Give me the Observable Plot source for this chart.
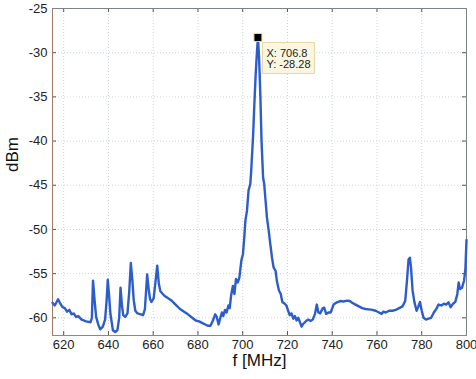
<!DOCTYPE html>
<html>
<head>
<meta charset="utf-8">
<script src="https://cdn.jsdelivr.net/npm/d3@7"></script>
<script src="https://cdn.jsdelivr.net/npm/@observablehq/plot@0.6"></script>
<style>
  html, body { margin: 0; padding: 0; background: #ffffff; }
  #chart { width: 476px; height: 379px; }
</style>
</head>
<body>
<div id="chart"></div>
<script>
const xTicks = [620, 640, 660, 680, 700, 720, 740, 760, 780, 800];
const yTicks = [-60, -55, -50, -45, -40, -35, -30, -25];

const freq = [
  615, 616, 617.5, 618.5, 619.5, 620.5, 621.5, 622.5, 623.5, 624.5, 625.5, 626.5, 628, 630, 632,
  632.6, 633.1, 633.8, 634.5, 635.5, 636.3, 637.5, 638.5, 639.2, 639.7, 640.3, 640.9, 642, 643, 644,
  644.8, 645.4, 646, 646.6, 647.5, 648.5, 649.3, 650, 650.7, 651.3, 652, 653, 654.5, 655.5, 656.3,
  657.3, 658, 658.6, 659.2, 660.2, 661, 661.8, 662.5, 663.2, 665, 668, 670, 672, 675, 677,
  679, 680.5, 682, 684.4, 685.6, 686.7, 687.7, 688.4, 689.2, 690, 690.7, 691.3, 692.1, 692.8, 693.6,
  694.2, 694.8, 695.6, 696.3, 697, 697.8, 698.5, 699.4, 700.1, 700.7, 701.2, 701.9, 702.6, 703.4, 703.8,
  704.6, 705.2, 705.8, 706.4, 706.8, 707.3, 707.9, 708.4, 709.1, 709.6, 710.2, 710.8, 711.6, 712.3, 713.1,
  713.8, 714.7, 715.3, 716.2, 717, 717.7, 718.8, 719.5, 720.3, 721, 721.8, 722.6, 723.3, 724.1, 724.8,
  725.6, 726.3, 727, 727.8, 728.6, 729.3, 730.3, 731.3, 732.3, 733.1, 733.8, 734.6, 735.8, 736.4, 737.3,
  738.3, 739.3, 740.6, 742.1, 743.6, 745.1, 746.6, 747.8, 748.9, 750.4, 751.9, 753.4, 754.9, 756.4, 757.9,
  759.4, 760.9, 762, 762.9, 763.9, 765.4, 766.9, 768.4, 769.9, 771.4, 772.6, 773.4, 774.1, 774.7, 775.2,
  775.9, 776.7, 777.7, 778.5, 779.2, 780, 780.8, 781.9, 783, 784.2, 785.4, 786.5, 787.5, 788.7, 789.9,
  790.9, 792, 792.9, 794, 795, 795.9, 796.5, 797.1, 798, 798.9, 799.5, 800
];
const dbm = [
  -58.3, -58.6, -57.9, -58.4, -58.8, -58.9, -59.3, -59.1, -59.6, -59.5, -59.9, -59.8, -60.2, -60.4, -60.5,
  -60.0, -55.8, -58.0, -59.9, -60.8, -61.3, -61.0, -60.2, -58.0, -55.7, -57.5, -59.6, -61.4, -61.6, -61.4,
  -60.0, -56.6, -58.5, -59.7, -59.9, -59.5, -57.0, -53.8, -55.8, -58.0, -59.2, -59.5, -59.6, -59.7, -59.0,
  -55.1, -56.8, -57.9, -58.2, -57.8, -56.0, -54.1, -56.1, -57.0, -57.5, -58.0, -58.5, -59.0, -59.5, -59.9,
  -60.3, -60.4, -60.6, -60.9, -60.9, -60.3, -59.6, -59.9, -60.75, -60.0, -59.4, -59.8, -59.1, -59.4, -58.6,
  -58.9, -57.5, -56.4, -57.3, -55.6, -56.0, -55.45, -53.5, -52.8, -50.9, -49.0, -47.9, -45.6, -44.85, -43.3,
  -39.6, -35.8, -32.4, -29.75, -28.28, -30.5, -35.0, -39.95, -44.1, -44.85, -46.7, -48.6, -50.1, -51.6, -53.2,
  -54.3, -54.7, -55.9, -56.9, -57.3, -58.2, -58.4, -58.6, -59.2, -59.7, -59.5, -60.1, -59.8, -60.3, -60.0,
  -60.5, -61.0, -60.7, -60.5, -60.3, -60.2, -60.35, -60.2, -59.55, -58.5, -59.4, -59.5, -58.9, -58.85, -59.55,
  -59.4, -59.4, -58.5, -58.25, -58.1, -58.15, -58.06, -58.1, -58.3, -58.5, -58.7, -58.9, -59.0, -59.05, -59.1,
  -59.2, -59.4, -59.55, -59.3, -59.4, -59.2, -59.2, -59.1, -58.9, -58.7, -58.1, -55.8, -53.4, -53.2, -54.3,
  -56.9, -58.2, -59.2, -58.7, -58.2, -59.2, -60.0, -60.2, -60.1, -60.0, -59.4, -59.0, -58.5, -58.6, -58.4,
  -58.5, -58.25, -58.8, -58.4, -58.2, -57.3, -56.0, -56.75, -56.6, -55.8, -54.5, -51.2
];

const markerX = [706.8];
const markerY = [-28.28];

const data = freq.map((f, i) => ({ f, dbm: dbm[i] }));
const peak = markerX.map((x, i) => ({ x, y: markerY[i], label: `X: ${x}\nY: ${markerY[i]}` }));

const gridStyle = { stroke: "#cbd7e0", strokeOpacity: 1, strokeDasharray: "1,2", strokeWidth: 1 };

const chart = Plot.plot({
  width: 476,
  height: 379,
  marginLeft: 52,
  marginRight: 10,
  marginTop: 8,
  marginBottom: 44,
  style: { fontFamily: "'Liberation Sans', Arial, sans-serif", fontSize: "13px", color: "#222", background: "#ffffff" },
  x: { domain: [615, 800] },
  y: { domain: [-62, -25] },
  marks: [
    Plot.gridX(xTicks, gridStyle),
    Plot.gridY(yTicks, gridStyle),
    Plot.ruleX(xTicks, { x: d => d, y1: -62, y2: -61.55, stroke: "#555" }),
    Plot.ruleX(xTicks, { x: d => d, y1: -25, y2: -25.45, stroke: "#555" }),
    Plot.ruleY(yTicks, { y: d => d, x1: 615, x2: 616.8, stroke: "#555" }),
    Plot.ruleY(yTicks, { y: d => d, x1: 800, x2: 798.2, stroke: "#555" }),
    Plot.frame({ stroke: "#7d838a" }),
    Plot.ruleX([615], { stroke: "#a27a6a" }),
    Plot.ruleY([-62], { stroke: "#a08272" }),
    Plot.axisX(xTicks, { tickSize: 0, tickPadding: 4, tickFormat: d => String(d), label: null }),
    Plot.axisY(yTicks, { tickSize: 0, tickPadding: 5, tickFormat: d => String(d), label: null }),
    Plot.line(data, { x: "f", y: "dbm", stroke: "#2d5ccb", strokeWidth: 2.4 }),
    Plot.dot(peak, { x: "x", y: "y", symbol: "square", r: 4.5, fill: "#000", stroke: "#f2d49a", strokeWidth: 1 }),
    Plot.tip(peak, {
      x: "x", y: "y", title: "label", anchor: "top-left", pointerSize: 0, dx: 5, dy: 5,
      fill: "#fbf6e1", stroke: "#e6d6a6", fontSize: 11, textPadding: 4, pathFilter: "none"
    }),
    Plot.text(["f [MHz]"], { frameAnchor: "bottom", dy: 30, fontSize: 17, fill: "#111" }),
    Plot.text(["dBm"], { frameAnchor: "left", dx: -40, rotate: -90, fontSize: 17, fill: "#111" })
  ]
});
document.getElementById("chart").appendChild(chart);
</script>
</body>
</html>
